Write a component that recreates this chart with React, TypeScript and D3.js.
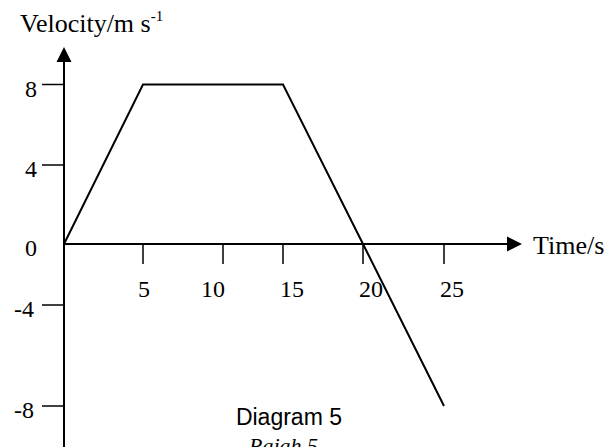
import React from "react";
import * as d3 from "d3";

const timeValues = [0, 5, 15, 20, 25];
const velocityValues = [0, 8, 8, 0, -8];
const xTicks = [5, 10, 15, 20, 25];
const yTicks = [8, 4, 0, -4, -8];
const xTickLabels = ["5", "10", "15", "20", "25"];
const yTickLabels = ["8", "4", "0", "-4", "-8"];

const W = 606;
const H = 447;
const serif = "'Liberation Serif', 'Times New Roman', serif";
const sans = "'Liberation Sans', Arial, sans-serif";

export default function App() {
  // the printed diagram has uneven grid spacing, reproduced with polylinear scales
  const x = d3.scaleLinear().domain([0, 5, 10, 15, 20, 25]).range([64, 143, 223, 283, 363, 444]);
  const y = d3.scaleLinear().domain([-8, -4, 0, 4, 8]).range([406, 305, 244, 165, 84.5]);
  const line = d3
    .line<number>()
    .x((_, i) => x(timeValues[i]))
    .y((d) => y(d));
  const x0 = x(0);
  const y0 = y(0);
  const xLabelDx = [1, -10, 9, 8, 8];

  return (
    <svg
      width={W}
      height={H}
      viewBox={`0 0 ${W} ${H}`}
      style={{ position: "absolute", left: 0, top: 0, background: "#fff" }}
    >
      <rect x={0} y={0} width={W} height={H} fill="#fff" />
      {/* y axis */}
      <line x1={x0} x2={x0} y1={H} y2={60} stroke="#000" strokeWidth={2} />
      <path d={`M${x0},47 L${x0 - 7.5},62 L${x0 + 7.5},62 Z`} fill="#000" />
      {/* x axis */}
      <line x1={x0} x2={508} y1={y0} y2={y0} stroke="#000" strokeWidth={2} />
      <path d={`M522,${y0} L507,${y0 - 7.5} L507,${y0 + 7.5} Z`} fill="#000" />

      {yTicks.map((t, i) =>
        t === 0 ? null : (
          <line key={"yt" + i} x1={x0 - 22} x2={x0} y1={y(t)} y2={y(t)} stroke="#000" strokeWidth={1.5} />
        )
      )}
      {yTicks.map((t, i) => (
        <text
          key={"yl" + i}
          x={t < 0 ? 34 : 37}
          y={y(t) + 12}
          textAnchor="end"
          fontFamily={serif}
          fontSize={24}
          fill="#000"
        >
          {yTickLabels[i]}
        </text>
      ))}
      {xTicks.map((t, i) => (
        <line key={"xt" + i} x1={x(t)} x2={x(t)} y1={y0} y2={y0 + 20} stroke="#000" strokeWidth={1.5} />
      ))}
      {xTicks.map((t, i) => (
        <text
          key={"xl" + i}
          x={x(t) + xLabelDx[i]}
          y={297}
          textAnchor="middle"
          fontFamily={serif}
          fontSize={24}
          fill="#000"
        >
          {xTickLabels[i]}
        </text>
      ))}

      <path d={line(velocityValues) || ""} fill="none" stroke="#000" strokeWidth={2} strokeLinejoin="miter" />

      <text x={20} y={32} fontFamily={serif} fontSize={26} fill="#000">
        Velocity/m s
        <tspan fontSize={15} dy={-11}>-1</tspan>
      </text>
      <text x={533} y={254} fontFamily={serif} fontSize={26} fill="#000">
        Time/s
      </text>
      <text x={342} y={425} textAnchor="end" fontFamily={sans} fontSize={23} fill="#000">
        Diagram 5
      </text>
      <text x={249} y={453} fontFamily={serif} fontStyle="italic" fontSize={22} fill="#000">
        Rajah 5
      </text>
    </svg>
  );
}
